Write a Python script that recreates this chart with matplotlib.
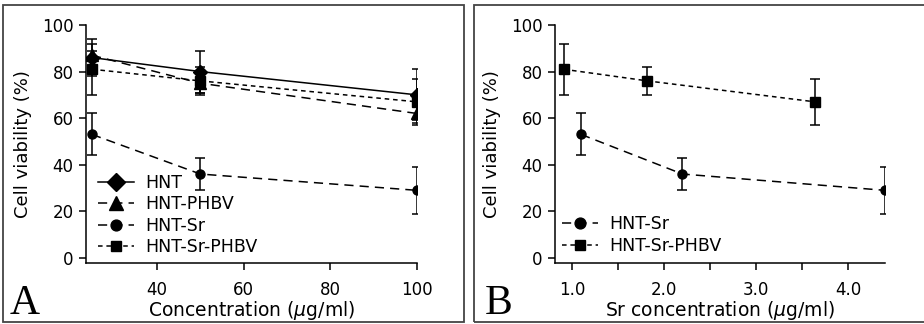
import matplotlib
matplotlib.use('Agg')
import matplotlib.pyplot as plt
from matplotlib.patches import Rectangle
from matplotlib.ticker import MultipleLocator

plt.rcParams['font.family'] = ['DejaVu Sans']
plt.rcParams['mathtext.fontset'] = 'dejavusans'

# panel A data: concentration (ug/ml) vs cell viability (%)
conc = [25, 50, 100]
hnt = [86, 80, 70]
hnt_err = [8, 9, 11]
hnt_phbv = [87, 75, 62]
hnt_phbv_err = [2, 4, 4]
hnt_sr = [53, 36, 29]
hnt_sr_err = [9, 7, 10]
hnt_sr_phbv = [81, 76, 67]
hnt_sr_phbv_err = [11, 6, 10]

# panel B data: Sr concentration (ug/ml)
sr_conc_sr = [1.1, 2.2, 4.4]
sr_conc_sr_phbv = [0.91, 1.82, 3.64]

W, H = 924, 324
fig = plt.figure(figsize=(W / 100, H / 100), dpi=100)

# panel frames
for x0, x1 in [(3, 464), (474, 930)]:
    fig.patches.append(Rectangle((x0 / W, (H - 322) / H), (x1 - x0) / W, 317 / H,
                                 transform=fig.transFigure, fill=False,
                                 edgecolor='#444444', lw=1.3))

axA = fig.add_axes([86 / W, 61 / H, 331 / W, 238 / H])
axB = fig.add_axes([555 / W, 61 / H, 330 / W, 238 / H])

ebkw = dict(fmt='none', ecolor='black', elinewidth=1.1, capsize=3.5, capthick=1.1)
dash = (0, (6, 4))
short = (0, (3, 2.5))


def series(ax, x, y, err, marker, ms, ls, label):
    ax.errorbar(x, y, yerr=err, **ebkw)
    ax.plot(x, y, color='black', lw=1.1, marker=marker, ms=ms, ls=ls, label=label)


series(axA, conc, hnt, hnt_err, 'D', 7.5, '-', 'HNT')
series(axA, conc, hnt_phbv, hnt_phbv_err, '^', 8, dash, 'HNT-PHBV')
series(axA, conc, hnt_sr, hnt_sr_err, 'o', 6.5, dash, 'HNT-Sr')
series(axA, conc, hnt_sr_phbv, hnt_sr_phbv_err, 's', 6.5, short, 'HNT-Sr-PHBV')

series(axB, sr_conc_sr, hnt_sr, hnt_sr_err, 'o', 6.5, dash, 'HNT-Sr')
series(axB, sr_conc_sr_phbv, hnt_sr_phbv, hnt_sr_phbv_err, 's', 6.5, short, 'HNT-Sr-PHBV')

axA.set_xlim(23.6, 100)
axA.xaxis.set_major_locator(MultipleLocator(20))
axB.set_xlim(0.816, 4.4)
axB.xaxis.set_major_locator(MultipleLocator(1.0))
axB.xaxis.set_minor_locator(MultipleLocator(0.5))
axB.xaxis.set_major_formatter(plt.FormatStrFormatter('%.1f'))

for ax in (axA, axB):
    ax.set_ylim(-2.2, 100)
    ax.yaxis.set_major_locator(MultipleLocator(20))
    for s in ('top', 'right'):
        ax.spines[s].set_visible(False)
    for s in ('left', 'bottom'):
        ax.spines[s].set_linewidth(1.1)
    ax.tick_params(axis='both', which='both', direction='out', width=1.1, labelsize=12)
    ax.tick_params(axis='x', which='both', length=5, pad=8)
    ax.tick_params(axis='y', length=5, pad=4)
    ax.set_ylabel('Cell viability (%)', fontsize=13, labelpad=7)
    ax.patch.set_alpha(0)

axA.set_xlabel(r'Concentration ($\mu$g/ml)', fontsize=13.5, labelpad=0)
axB.set_xlabel(r'Sr concentration ($\mu$g/ml)', fontsize=13.5, labelpad=0)

legkw = dict(frameon=False, fontsize=12.5, handlelength=2.1, handletextpad=0.6,
             labelspacing=0.2, borderaxespad=0, numpoints=1, markerscale=1.2)
axA.legend(loc='lower left', bbox_to_anchor=(0.015, 0.0), **legkw)
axB.legend(loc='lower left', bbox_to_anchor=(0.0, 0.005), **legkw)

fig.text(10 / W, 1 / H, 'A', fontsize=30, family='Liberation Serif', ha='left', va='bottom')
fig.text(485 / W, 1 / H, 'B', fontsize=30, family='Liberation Serif', ha='left', va='bottom')

fig.savefig('out.png', dpi=100)
